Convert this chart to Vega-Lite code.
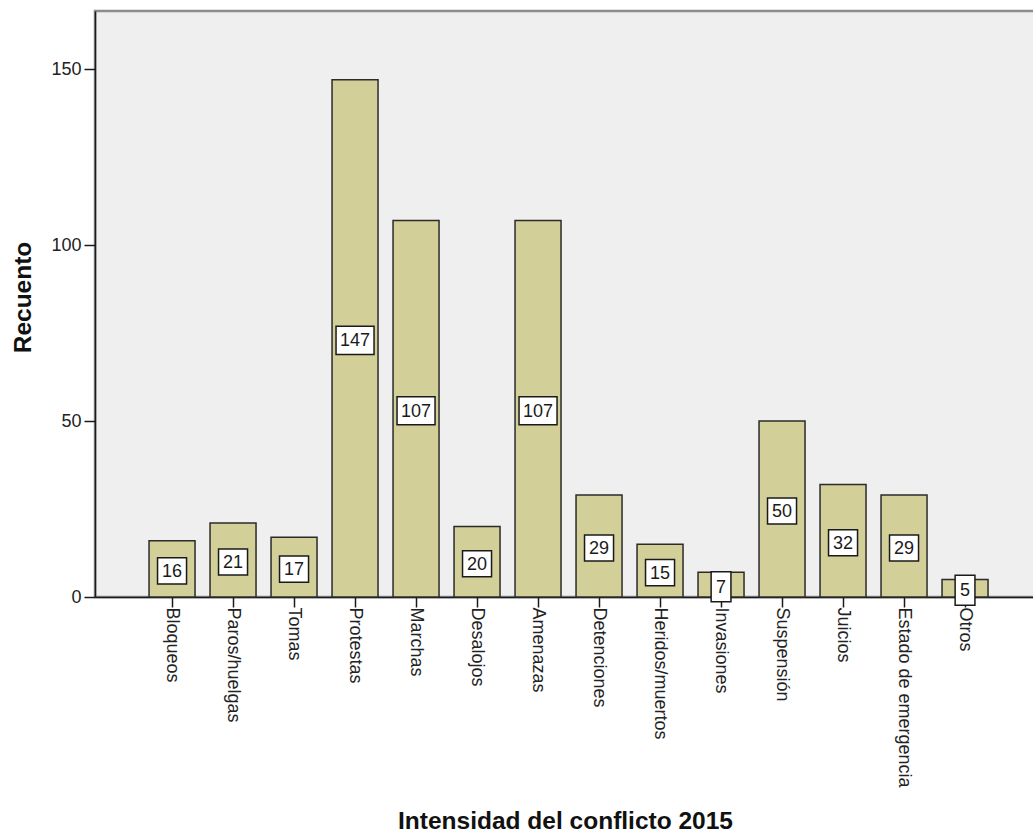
{
  "$schema": "https://vega.github.io/schema/vega-lite/v6.json",
  "autosize": {"type": "none"},
  "width": 940,
  "height": 586,
  "padding": {"left": 95, "top": 11, "right": 0, "bottom": 237},
  "background": "#ffffff",
  "config": {
    "font": "Liberation Sans",
    "view": {"fill": "#efefef", "stroke": "#8c8c8c", "strokeWidth": 2.5},
    "axis": {
      "domainColor": "#1a1a1a",
      "domainWidth": 1.5,
      "tickColor": "#1a1a1a",
      "tickWidth": 1.5,
      "labelColor": "#222222",
      "labelFont": "Liberation Sans",
      "labelFontSize": 18,
      "labelLimit": 0,
      "titleFont": "Liberation Sans",
      "titleFontWeight": "bold",
      "titleFontSize": 24.5,
      "titleColor": "#111111",
      "grid": false
    }
  },
  "data": {
    "values": [
      {"tipo": "Bloqueos", "n": 16},
      {"tipo": "Paros/huelgas", "n": 21},
      {"tipo": "Tomas", "n": 17},
      {"tipo": "Protestas", "n": 147},
      {"tipo": "Marchas", "n": 107},
      {"tipo": "Desalojos", "n": 20},
      {"tipo": "Amenazas", "n": 107},
      {"tipo": "Detenciones", "n": 29},
      {"tipo": "Heridos/muertos", "n": 15},
      {"tipo": "Invasiones", "n": 7},
      {"tipo": "Suspensión", "n": 50},
      {"tipo": "Juicios", "n": 32},
      {"tipo": "Estado de emergencia", "n": 29},
      {"tipo": "Otros", "n": 5}
    ]
  },
  "encoding": {
    "x": {
      "field": "tipo",
      "type": "nominal",
      "sort": null,
      "scale": {"paddingInner": 0.246, "paddingOuter": 0.828, "align": 0.535},
      "axis": {
        "title": "Intensidad del conflicto 2015",
        "labelAngle": 90,
        "labelAlign": "left",
        "labelBaseline": "middle",
        "labelPadding": 0,
        "tickSize": 10,
        "titleY": 231,
        "titleBaseline": "alphabetic"
      }
    }
  },
  "layer": [
    {
      "mark": {"type": "bar", "fill": "#d3cf98", "stroke": "#2b2b2b", "strokeWidth": 1.5},
      "encoding": {
        "y": {
          "field": "n",
          "type": "quantitative",
          "scale": {"domain": [0, 166.5], "nice": false},
          "axis": {
            "title": "Recuento",
            "values": [0, 50, 100, 150],
            "tickSize": 11,
            "labelPadding": 3,
            "titleX": -65,
            "titleY": 286,
            "titleBaseline": "alphabetic"
          }
        }
      }
    },
    {
      "transform": [{"calculate": "datum.n / 2", "as": "mitad"}],
      "mark": {"type": "point", "filled": true, "fill": "#ffffff", "stroke": "#1a1a1a", "strokeWidth": 1.5, "opacity": 1, "yOffset": 2},
      "encoding": {
        "y": {"field": "mitad", "type": "quantitative"},
        "shape": {
          "condition": [
            {"test": "datum.n < 10", "value": "M-0.66,-1L0.66,-1L0.66,1L-0.66,1Z"},
            {"test": "datum.n < 100", "value": "M-1,-0.9L1,-0.9L1,0.9L-1,0.9Z"}
          ],
          "value": "M-1,-0.74L1,-0.74L1,0.74L-1,0.74Z"
        },
        "size": {
          "condition": [
            {"test": "datum.n < 10", "value": 900},
            {"test": "datum.n < 100", "value": 841}
          ],
          "value": 1444
        }
      }
    },
    {
      "transform": [{"calculate": "datum.n / 2", "as": "mitad"}],
      "mark": {"type": "text", "fontSize": 18, "color": "#1a1a1a", "baseline": "middle", "align": "center", "dy": 3},
      "encoding": {
        "y": {"field": "mitad", "type": "quantitative"},
        "text": {"field": "n", "type": "quantitative"}
      }
    }
  ]
}
